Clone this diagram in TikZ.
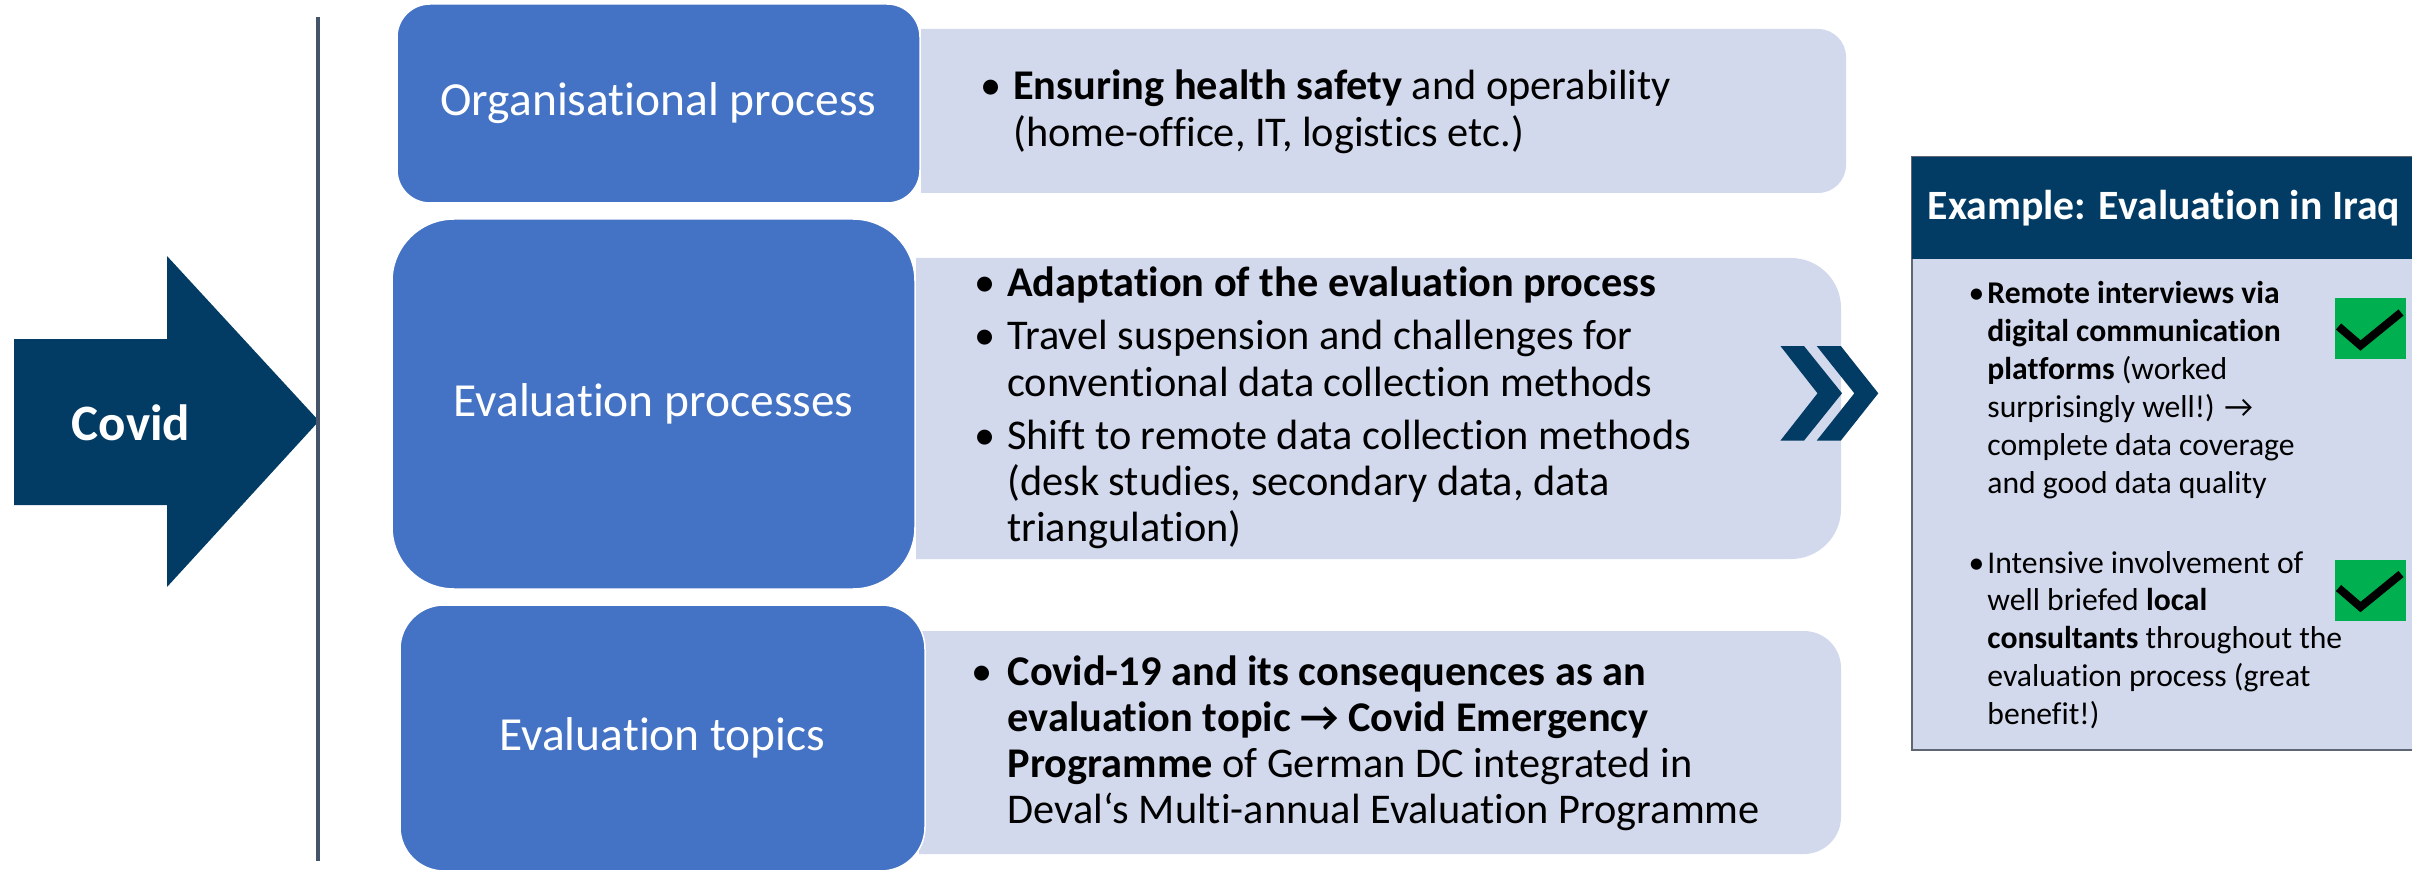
\documentclass[tikz,border=0pt]{standalone}
\usepackage{fontspec}
\setmainfont{Carlito}[Ligatures=NoCommon]
\newdimen\px \px=0.01cm
\definecolor{navy}{HTML}{023B64}
\definecolor{boxblue}{HTML}{4472C4}
\definecolor{lightbox}{HTML}{D3D9EC}
\definecolor{slate}{HTML}{44546A}
\definecolor{okgreen}{HTML}{00B050}
\definecolor{panelborder}{HTML}{5E6673}
\newcommand\rpanel[5]{\path[lightpanel] (#1,#2) -- ({#3-#5},#2) arc[start angle=-90,end angle=0,radius=#5] -- (#3,{#4-#5}) arc[start angle=0,end angle=90,radius=#5] -- (#1,#4) -- cycle;}
\newcommand\bul[3]{\makebox[#1\px][l]{\hspace*{#2\px}\textbullet}\parbox[t]{900\px}{\raggedright #3}}
\tikzset{
  bluebox/.style={fill=boxblue, draw=white, line width=1.5\px, inner sep=0, text=white,
    font=\fontsize{13.5}{16}\selectfont},
  lightpanel/.style={fill=lightbox},
  bultext/.style={anchor=base west, inner sep=0, font=\fontsize{12.04}{13.09}\selectfont},
  iraqtext/.style={anchor=base west, inner sep=0, font=\fontsize{9}{10.8}\selectfont},
  chkbox/.style={fill=okgreen, minimum width=71\px, minimum height=61\px, inner sep=0},
  chkmark/.style={draw=black, line width=8\px, line cap=butt, line join=miter},
}
\begin{document}
\begin{tikzpicture}[x=0.01cm,y=-0.01cm]
\useasboundingbox (0,0) rectangle (2412,870);
\clip (0,0) rectangle (2412,870);
% Covid arrow
\path[fill=navy] (14,339) -- (167,339) -- (167,256) -- (319,421) -- (167,587) -- (167,505) -- (14,505) -- cycle;
\node[text=white, font=\bfseries\fontsize{14.5}{17}\selectfont, inner sep=0] (covid) at (131,423) {Covid};
% divider
\draw[slate, line width=4\px] (318,17) -- (318,861);
% light panels
\rpanel{921}{29}{1846}{193}{28}
\rpanel{916}{258}{1841}{559}{50}
\rpanel{919}{631}{1841}{854}{37}
% blue boxes
\node[bluebox, rounded corners=33\px, minimum width=523\px, minimum height=199\px] (org) at (658.5,103.5) {Organisational process};
\node[bluebox, rounded corners=62\px, minimum width=523\px, minimum height=370\px] (evp) at (653.5,404) {Evaluation processes};
\node[bluebox, rounded corners=44\px, minimum width=525\px, minimum height=266\px] (evt) at (662.5,738) {Evaluation topics};
% bullet texts
\node[bultext] (b1) at (980,100) {\bul{32.6}{0}{\textbf{Ensuring health safety} and operability\\(home-office, IT, logistics etc.)}};
\node[bultext] (b2) at (974,296.6) {\bul{32.6}{0}{\textbf{Adaptation of the evaluation process}}};
\node[bultext] (b3) at (974,350) {\bul{32.6}{0}{Travel suspension and challenges for\\conventional data collection methods}};
\node[bultext] (b4) at (974,449.7) {\bul{32.6}{0}{Shift to remote data collection methods\\(desk studies, secondary data, data\\triangulation)}};
\node[bultext] (b5) at (971,685) {\bul{36}{0}{\textbf{Covid-19 and its consequences as an\\evaluation topic → Covid Emergency\\Programme} of German DC integrated in\\Deval‘s Multi-annual Evaluation Programme}};
% chevrons
\path[fill=navy] (1780.4,346) -- (1804,346) -- (1842,393.3) -- (1804,440.6) -- (1780.4,440.6) -- (1817.5,393.3) -- cycle;
\path[fill=navy] (1816.7,346) -- (1840.8,346) -- (1878.3,393.3) -- (1840.8,440.6) -- (1816.7,440.6) -- (1854.3,393.3) -- cycle;
% example panel
\path[fill=lightbox, draw=panelborder, line width=2\px] (1912,157) rectangle (2430,750);
\path[fill=navy] (1912,157) rectangle (2430,259);
\node[anchor=west, inner sep=0, text=white, font=\bfseries\fontsize{11.87}{14}\selectfont] (hdr) at (1927,208) {Example: Evaluation in Iraq};
\node[iraqtext] (i1) at (1968,304) {\bul{18.7}{0}{\textbf{Remote interviews via}\\\textbf{digital communication}\\\textbf{platforms} (worked\\surprisingly well!) →\\complete data coverage\\and good data quality}};
\node[iraqtext] (i2) at (1968,573) {\bul{18.7}{0}{Intensive involvement of\\well briefed \textbf{local}\\\textbf{consultants} throughout the\\evaluation process (great\\benefit!)}};
% check marks
\node[chkbox] (c1) at (2370.5,328.5) {};
\node[chkbox] (c2) at (2370.5,590) {};
\draw[chkmark] ([shift={(-32,-2)}]c1.center) -- ([shift={(-10,17)}]c1.center) -- ([shift={(30.5,-16)}]c1.center);
\draw[chkmark] ([shift={(-32,-2)}]c2.center) -- ([shift={(-10,17)}]c2.center) -- ([shift={(30.5,-16)}]c2.center);
\end{tikzpicture}
\end{document}
